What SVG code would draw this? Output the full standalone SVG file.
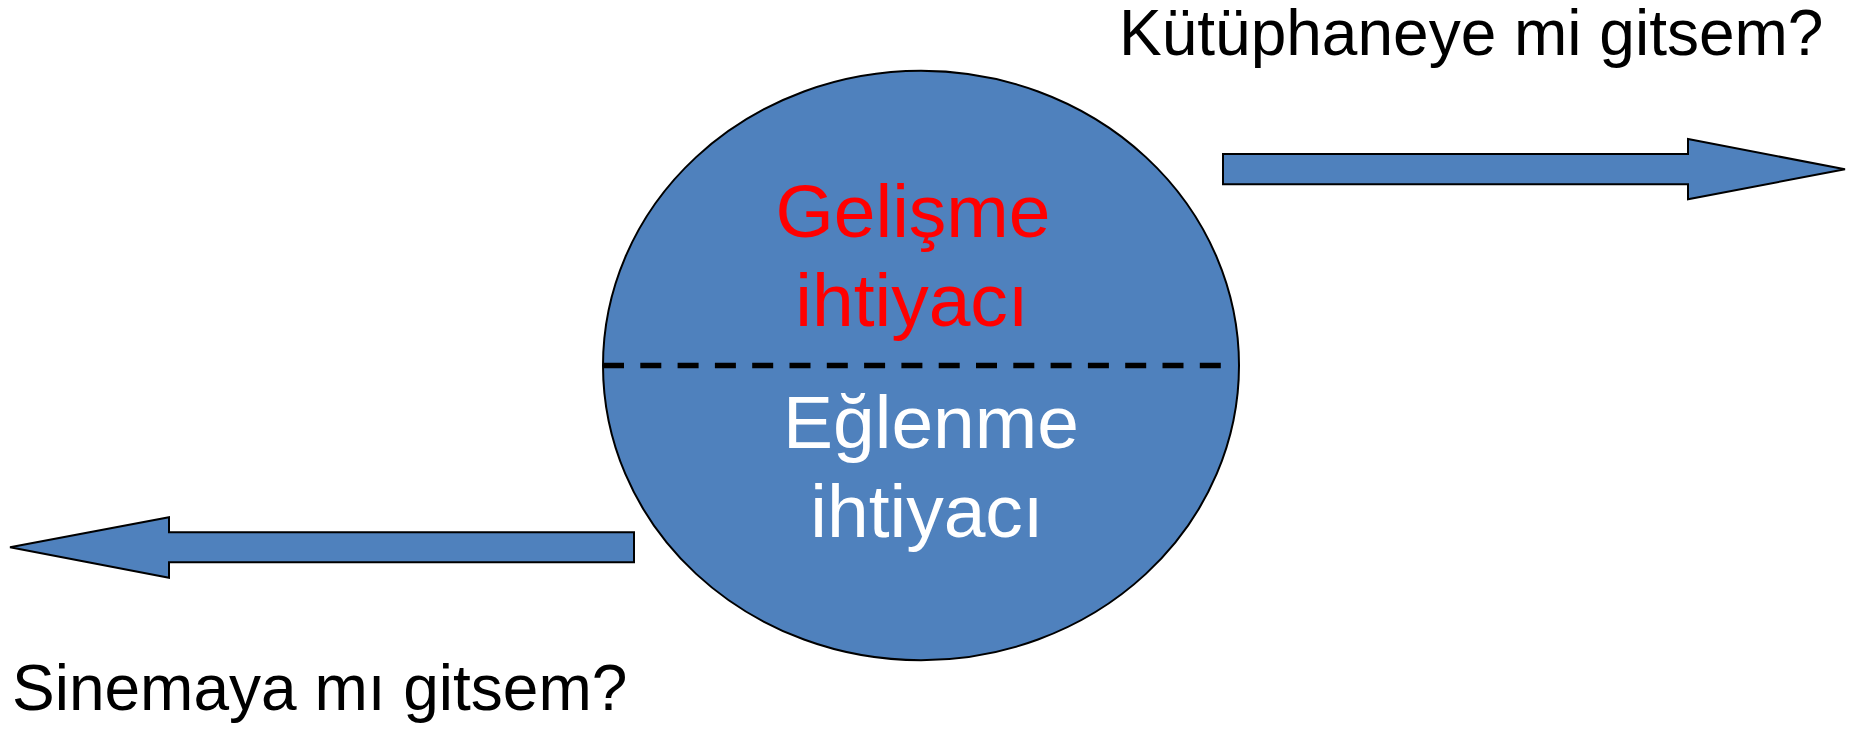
<svg xmlns="http://www.w3.org/2000/svg" width="1851" height="729" viewBox="0 0 1851 729">
<style>
.shape{fill:#4F81BD;stroke:#000;stroke-width:2;stroke-linejoin:miter}
.t{font-family:"Liberation Sans",Arial,sans-serif}
.big{font-size:75px;text-anchor:middle}
.lbl{font-size:64px;fill:#000}
</style>
<rect width="1851" height="729" fill="#fff"/>
<g id="circle">
<ellipse class="shape" cx="921" cy="365.5" rx="318" ry="294.7"/>
<line x1="603" y1="365.5" x2="1222" y2="365.5" stroke="#000" stroke-width="5.5" stroke-dasharray="21 16.3"/>
<text class="t big" x="913" y="236.7" fill="#FF0000">Gelişme</text>
<text class="t big" x="912" y="325.7" fill="#FF0000">ihtiyacı</text>
<text class="t big" x="931" y="447.7" fill="#FFFFFF">Eğlenme</text>
<text class="t big" x="927" y="536.7" fill="#FFFFFF">ihtiyacı</text>
</g>
<g id="connectors">
<polygon class="shape" points="1223,154 1688,154 1688,139 1845,169.3 1688,199.3 1688,184.3 1223,184.3"/>
<polygon class="shape" points="634,532.3 169,532.3 169,517.3 10,547.3 169,577.7 169,562.3 634,562.3"/>
</g>
<g id="label-library">
<text class="t lbl" x="1119" y="55">Kütüphaneye mi gitsem?</text>
</g>
<g id="label-cinema">
<text class="t lbl" x="12" y="710">Sinemaya mı gitsem?</text>
</g>
</svg>
